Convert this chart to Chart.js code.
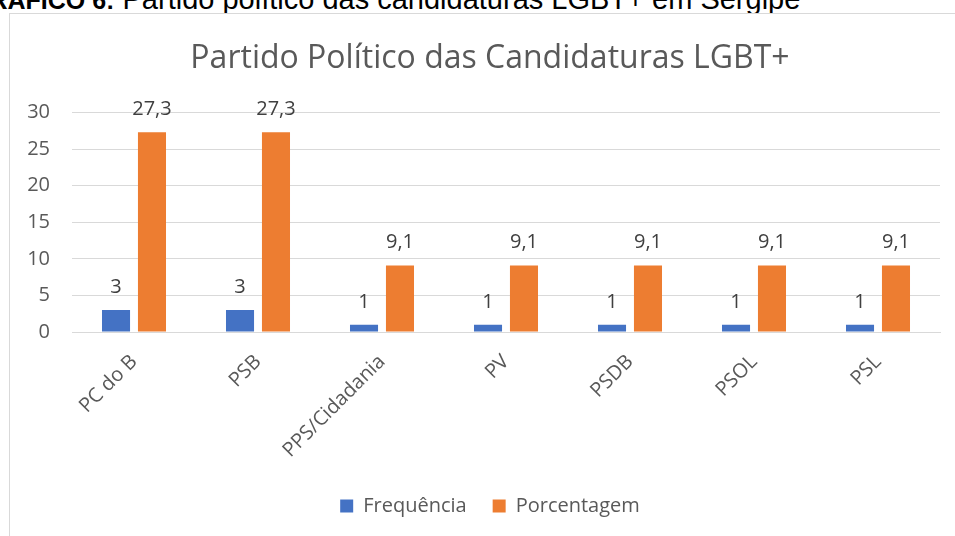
<!DOCTYPE html>
<html>
<head>
<meta charset="utf-8">
<script src="https://cdn.jsdelivr.net/npm/chart.js@4"></script>
<style>
  html, body { margin: 0; padding: 0; background: #fff; overflow: hidden; }
  body { width: 955px; height: 536px; position: relative; }
  .caption {
    position: absolute; left: -30px; top: -17px;
    font-family: "Liberation Sans", Arial, sans-serif; font-size: 29px; color: #000;
    white-space: nowrap;
  }
  .caption b { font-size: 25px; }
  .box {
    position: absolute; left: 9px; top: 13px; width: 960px; height: 540px;
    border: 1px solid #d9d9d9; background: #fff;
  }
  .box canvas { display: block; }
</style>
</head>
<body>
<div class="caption"><b>GRÁFICO 6:</b> Partido político das candidaturas LGBT+ em Sergipe</div>
<div class="box">
  <canvas id="chart" width="960" height="522"></canvas>
</div>
<script>
// ===== DATA =====
const partidos = ['PC do B', 'PSB', 'PPS/Cidadania', 'PV', 'PSDB', 'PSOL', 'PSL'];
const frequencia = [3, 3, 1, 1, 1, 1, 1];
const porcentagem = [27.3, 27.3, 9.1, 9.1, 9.1, 9.1, 9.1];
const yTicks = [0, 5, 10, 15, 20, 25, 30];

const FONT = '"Open Sans", "Noto Sans", sans-serif';

// value labels over the bars, comma decimal
const valueLabels = {
    id: 'valueLabels',
    afterDatasetsDraw(chart) {
        const c = chart.ctx;
        c.save();
        c.font = '20px ' + FONT;
        c.fillStyle = '#404040';
        c.textAlign = 'center';
        c.textBaseline = 'alphabetic';
        chart.data.datasets.forEach((ds, i) => {
            chart.getDatasetMeta(i).data.forEach((bar, j) => {
                const txt = String(ds.data[j]).replace('.', ',');
                c.fillText(txt, bar.x, bar.y - 17);
            });
        });
        c.restore();
    }
};

new Chart(document.getElementById('chart'), {
    type: 'bar',
    data: {
        labels: partidos,
        datasets: [
            {
                label: 'Frequência',
                data: frequencia,
                backgroundColor: '#4472c4',
                categoryPercentage: 0.58,
                barPercentage: 0.78
            },
            {
                label: 'Porcentagem',
                data: porcentagem,
                backgroundColor: '#ed7d31',
                categoryPercentage: 0.58,
                barPercentage: 0.78
            }
        ]
    },
    options: {
        responsive: false,
        animation: false,
        layout: {
            padding: { left: 0, right: 0, top: 0, bottom: 10 }
        },
        plugins: {
            title: {
                display: true,
                text: 'Partido Político das Candidaturas LGBT+',
                color: '#595959',
                font: { family: FONT, size: 32, weight: 'normal' },
                padding: { top: 26, bottom: 34 }
            },
            legend: {
                position: 'bottom',
                labels: {
                    color: '#595959',
                    font: { family: FONT, size: 20 },
                    boxWidth: 13,
                    boxHeight: 13,
                    padding: 26
                }
            },
            tooltip: { enabled: false }
        },
        scales: {
            x: {
                grid: { display: false },
                border: { color: '#d9d9d9' },
                afterFit(axis) { axis.height = 138; },
                ticks: {
                    color: '#595959',
                    font: { family: FONT, size: 20 },
                    minRotation: 45,
                    maxRotation: 45,
                    autoSkip: false,
                    padding: 10
                }
            },
            y: {
                min: 0,
                max: 30,
                afterBuildTicks(axis) {
                    axis.ticks = yTicks.map(v => ({ value: v }));
                },
                afterFit(axis) { axis.width = 62; },
                grid: { color: '#d9d9d9', drawTicks: false },
                border: { display: false },
                ticks: {
                    color: '#595959',
                    font: { family: FONT, size: 20 },
                    padding: 22
                }
            },
            // empty right gutter, keeps the plot where the original has it
            gutter: {
                type: 'linear',
                position: 'right',
                grid: { display: false },
                border: { display: false },
                ticks: { display: false },
                afterFit(axis) { axis.width = 30; }
            }
        }
    },
    plugins: [valueLabels]
});
</script>
</body>
</html>
